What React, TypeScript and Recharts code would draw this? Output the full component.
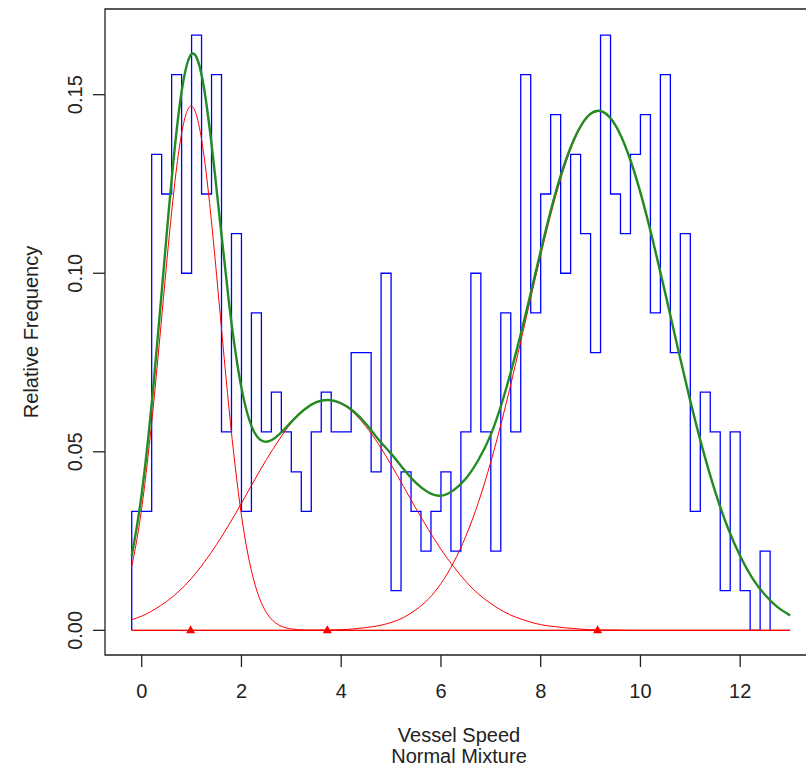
import React from 'react';
import { ComposedChart, Line, Scatter, XAxis, YAxis, ReferenceArea } from 'recharts';

// histogram: relative frequency per 0.2-wide bin, first bin starts at -0.2
const BIN_START = -0.2;
const BIN_WIDTH = 0.2;
const relFreq = [
  0.0333, 0.0333, 0.1333, 0.1222, 0.1556, 0.1, 0.1667, 0.1222, 0.1556, 0.0556,
  0.1111, 0.0333, 0.0889, 0.0556, 0.0667, 0.0556, 0.0444, 0.0333, 0.0556, 0.0667,
  0.0556, 0.0556, 0.0778, 0.0778, 0.0444, 0.1, 0.0111, 0.0444, 0.0333, 0.0222,
  0.0333, 0.0444, 0.0222, 0.0556, 0.1, 0.0556, 0.0222, 0.0889, 0.0556, 0.1556,
  0.0889, 0.1222, 0.1444, 0.1, 0.1333, 0.1111, 0.0778, 0.1667, 0.1222, 0.1111,
  0.1333, 0.1444, 0.0889, 0.1556, 0.0778, 0.1111, 0.0333, 0.0667, 0.0556, 0.0111,
  0.0556, 0.0111, 0, 0.0222,
];

// density curves
const curveX = [
  -0.2, 0, 0.25, 0.5, 0.75, 1, 1.25, 1.5, 1.75, 2, 2.25, 2.5, 2.75, 3, 3.25, 3.5, 3.75, 4,
  4.25, 4.5, 4.75, 5, 5.25, 5.5, 5.75, 6, 6.25, 6.5, 6.75, 7, 7.25, 7.5, 7.75, 8, 8.25, 8.5,
  8.75, 9, 9.25, 9.5, 9.75, 10, 10.25, 10.5, 10.75, 11, 11.25, 11.5, 11.75, 12, 12.25, 12.5,
  12.75, 13,
];
const comp1 = [
  0.0179, 0.0342, 0.0651, 0.1028, 0.1348, 0.1468, 0.1328, 0.0997, 0.0622, 0.0322, 0.0139,
  0.005, 0.0015, 0.0004, 0.0001, 0, 0, 0, 0, 0, 0, 0, 0, 0, 0, 0, 0, 0, 0, 0, 0, 0, 0, 0, 0,
  0, 0, 0, 0, 0, 0, 0, 0, 0, 0, 0, 0, 0, 0, 0, 0, 0, 0, 0,
];
const comp2 = [
  0.003, 0.004, 0.0058, 0.0081, 0.011, 0.0146, 0.019, 0.024, 0.0296, 0.0356, 0.0418, 0.0478,
  0.0533, 0.0581, 0.0616, 0.0638, 0.0644, 0.0634, 0.0609, 0.057, 0.0521, 0.0464, 0.0403,
  0.0341, 0.0282, 0.0227, 0.0179, 0.0137, 0.0102, 0.0075, 0.0053, 0.0037, 0.0025, 0.0016,
  0.0011, 0.0007, 0.0004, 0.0002, 0.0001, 0.0001, 0, 0, 0, 0, 0, 0, 0, 0, 0, 0, 0, 0, 0, 0,
];
const comp3 = [
  0, 0, 0, 0, 0, 0, 0, 0, 0, 0, 0, 0, 0, 0, 0, 0.0001, 0.0001, 0.0002, 0.0004, 0.0008, 0.0013,
  0.0022, 0.0036, 0.0058, 0.0088, 0.0131, 0.0189, 0.0264, 0.0358, 0.0472, 0.0603, 0.0748,
  0.09, 0.105, 0.119, 0.1308, 0.1395, 0.1444, 0.145, 0.1413, 0.1336, 0.1226, 0.1091, 0.0943,
  0.079, 0.0642, 0.0507, 0.0388, 0.0288, 0.0208, 0.0145, 0.0099, 0.0065, 0.0042,
];
const mixture = [
  0.0209, 0.0382, 0.0708, 0.1108, 0.1458, 0.1614, 0.1518, 0.1237, 0.0918, 0.0679,
  0.0557, 0.0528, 0.0548, 0.0584, 0.0617, 0.0639, 0.0645, 0.0636, 0.0613, 0.0578,
  0.0534, 0.0495, 0.0452, 0.0413, 0.0386, 0.0377, 0.0392, 0.0425, 0.0477, 0.0548,
  0.065, 0.0775, 0.0915, 0.1062, 0.1201, 0.1315, 0.1399, 0.1447, 0.1452, 0.1414,
  0.1336, 0.1226, 0.1091, 0.0943, 0.079, 0.0642, 0.0507, 0.0388, 0.0288, 0.0208,
  0.0145, 0.0099, 0.0065, 0.0042,
];
const means = [0.98, 3.72, 9.14];

const xTicks = [0, 2, 4, 6, 8, 10, 12];
const yTicks = [0, 0.05, 0.1, 0.15];
const yTickLabels = ['0.00', '0.05', '0.10', '0.15'];

const X_DOMAIN: [number, number] = [-0.736, 13.48];
const Y_DOMAIN: [number, number] = [-0.0069, 0.174];

const FONT = '"Liberation Sans", Arial, sans-serif';
const INK = '#222';

const round = (v: number) => Math.round(v * 1000) / 1000;

const histData = [
  { x: BIN_START, y: 0 },
  ...relFreq.map((v, i) => ({ x: round(BIN_START + i * BIN_WIDTH), y: v })),
  { x: round(BIN_START + relFreq.length * BIN_WIDTH), y: 0 },
];
const toSeries = (ys: number[]) => curveX.map((x, i) => ({ x, y: ys[i] }));
const baseline = [{ x: curveX[0], y: 0 }, { x: curveX[curveX.length - 1], y: 0 }];
const meanPoints = means.map(m => ({ x: m, y: 0 }));

const XTick = ({ x, payload }: any) => (
  <text x={x} y={698} textAnchor="middle" fontSize={20} fontFamily={FONT} fill={INK}>
    {payload.value}
  </text>
);

const YTick = ({ y, payload }: any) => {
  const i = yTicks.indexOf(payload.value);
  return (
    <text x={82} y={y} transform={`rotate(-90 82 ${y})`} textAnchor="middle" fontSize={20} fontFamily={FONT} fill={INK}>
      {i >= 0 ? yTickLabels[i] : payload.value}
    </text>
  );
};

const Triangle = ({ cx, cy }: any) => (
  <polygon points={`${cx},${cy - 5} ${cx - 4.5},${cy + 3} ${cx + 4.5},${cy + 3}`} fill="#ff0000" />
);

export default function App() {
  return (
    <div style={{ position: 'absolute', left: 0, top: 0, width: 806, height: 767, overflow: 'hidden', background: '#fff' }}>
      <ComposedChart width={820} height={767} margin={{ top: 9, right: 6, left: 0, bottom: 0 }}>
        <XAxis
          type="number"
          dataKey="x"
          domain={X_DOMAIN}
          ticks={xTicks}
          allowDataOverflow
          height={112}
          axisLine={false}
          tickSize={12}
          tickLine={{ stroke: INK, strokeWidth: 1.3 }}
          tick={<XTick />}
          interval={0}
        />
        <YAxis
          type="number"
          domain={Y_DOMAIN}
          ticks={yTicks}
          allowDataOverflow
          width={105}
          axisLine={false}
          tickSize={12}
          tickLine={{ stroke: INK, strokeWidth: 1.3 }}
          tick={<YTick />}
          interval={0}
        />
        <ReferenceArea x1={X_DOMAIN[0]} x2={X_DOMAIN[1]} y1={Y_DOMAIN[0]} y2={Y_DOMAIN[1]} fill="none" stroke={INK} strokeWidth={1.3} fillOpacity={0} />
        <Line data={histData} dataKey="y" type="stepAfter" stroke="#0000ff" strokeWidth={1.3} dot={false} activeDot={false} isAnimationActive={false} />
        <Line data={baseline} dataKey="y" type="linear" stroke="#ff0000" strokeWidth={1.2} dot={false} activeDot={false} isAnimationActive={false} />
        <Line data={toSeries(comp1)} dataKey="y" type="natural" stroke="#ff0000" strokeWidth={1} dot={false} activeDot={false} isAnimationActive={false} />
        <Line data={toSeries(comp2)} dataKey="y" type="natural" stroke="#ff0000" strokeWidth={1} dot={false} activeDot={false} isAnimationActive={false} />
        <Line data={toSeries(comp3)} dataKey="y" type="natural" stroke="#ff0000" strokeWidth={1} dot={false} activeDot={false} isAnimationActive={false} />
        <Line data={toSeries(mixture)} dataKey="y" type="natural" stroke="#228b22" strokeWidth={2.4} dot={false} activeDot={false} isAnimationActive={false} />
        <Scatter data={meanPoints} dataKey="y" shape={<Triangle />} isAnimationActive={false} />
      </ComposedChart>
      <svg width={806} height={767} style={{ position: 'absolute', left: 0, top: 0, pointerEvents: 'none' }}>
        <text x={459} y={742} textAnchor="middle" fontSize={20} fontFamily={FONT} fill={INK}>Vessel Speed</text>
        <text x={459} y={763} textAnchor="middle" fontSize={20} fontFamily={FONT} fill={INK}>Normal Mixture</text>
        <text x={38} y={332} transform="rotate(-90 38 332)" textAnchor="middle" fontSize={20} fontFamily={FONT} fill={INK}>Relative Frequency</text>
      </svg>
    </div>
  );
}
